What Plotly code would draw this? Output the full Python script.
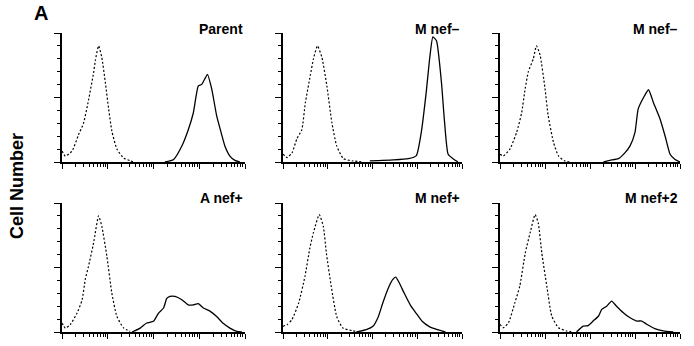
import numpy as np
import plotly.graph_objects as go

# ---- data (x in log10 fluorescence decades, y = relative cell number) ----
panel_titles = ["Parent", "M nef–", "M nef–", "A nef+", "M nef+", "M nef+2"]

ctrl_x_parent = [0, 0.073, 0.22, 0.36, 0.47, 0.58, 0.69, 0.73, 0.80, 0.87, 0.95, 1.02, 1.09, 1.2, 1.35, 1.49, 1.56]
ctrl_y_parent = [0.85, 0.46, 0.85, 2.1, 3.0, 4.8, 6.9, 7.9, 9.0, 8.1, 6.1, 4.1, 2.4, 1.0, 0.3, 0.1, 0]
samp_x_parent = [2.25, 2.44, 2.62, 2.76, 2.87, 2.98, 3.05, 3.13, 3.18, 3.27, 3.38, 3.45, 3.56, 3.67, 3.78, 3.89]
samp_y_parent = [0, 0.2, 1.24, 2.5, 3.8, 5.9, 6.0, 6.5, 6.8, 5.7, 3.6, 2.65, 1.24, 0.46, 0.13, 0]

ctrl_x_mneg1 = [0, 0.09, 0.2, 0.31, 0.42, 0.5, 0.61, 0.68, 0.77, 0.87, 0.98, 1.09, 1.2, 1.35, 1.57, 1.8]
ctrl_y_mneg1 = [0.6, 0.34, 0.7, 1.8, 2.5, 4.6, 6.7, 8.0, 9.0, 8.1, 5.9, 3.1, 1.25, 0.26, 0.08, 0]
samp_x_mneg1 = [1.94, 2.46, 2.8, 2.98, 3.09, 3.2, 3.28, 3.35, 3.43, 3.54, 3.61, 3.69, 3.8, 3.91]
samp_y_mneg1 = [0.08, 0.16, 0.26, 0.5, 2.3, 5.4, 8.1, 9.7, 9.4, 6.2, 3.1, 0.6, 0.26, 0]

ctrl_x_mneg2 = [0, 0.074, 0.22, 0.37, 0.48, 0.56, 0.63, 0.74, 0.81, 0.89, 1.0, 1.07, 1.19, 1.3, 1.44, 1.56]
ctrl_y_mneg2 = [0.6, 0.47, 1.0, 2.3, 3.8, 5.7, 7.0, 8.0, 9.0, 8.3, 5.7, 3.6, 1.5, 0.47, 0.08, 0]
samp_x_mneg2 = [2.3, 2.44, 2.63, 2.78, 2.89, 3.0, 3.07, 3.19, 3.3, 3.41, 3.56, 3.67, 3.78, 3.89, 4.0]
samp_y_mneg2 = [0, 0.13, 0.26, 0.73, 1.25, 2.3, 4.1, 5.0, 5.6, 4.6, 3.3, 2.0, 0.6, 0.2, 0]

ctrl_x_apos = [0, 0.073, 0.18, 0.33, 0.44, 0.51, 0.58, 0.69, 0.8, 0.87, 0.98, 1.09, 1.2, 1.35, 1.49]
ctrl_y_apos = [0.7, 0.3, 0.57, 1.47, 2.5, 4.1, 5.1, 6.9, 9.0, 8.2, 5.9, 3.0, 1.2, 0.3, 0.05]
samp_x_apos = [1.53, 1.71, 1.85, 2.0, 2.11, 2.22, 2.29, 2.36, 2.47, 2.62, 2.76, 2.87, 2.98, 3.09, 3.24, 3.38, 3.53, 3.67, 3.82, 3.93]
samp_y_apos = [0, 0.3, 0.7, 0.83, 1.47, 1.86, 2.6, 2.76, 2.76, 2.5, 2.1, 2.1, 2.2, 1.86, 1.6, 1.2, 0.65, 0.3, 0.05, 0]

ctrl_x_mpos = [0, 0.09, 0.2, 0.35, 0.49, 0.6, 0.68, 0.81, 0.9, 0.97, 1.08, 1.2, 1.34, 1.56, 1.71]
ctrl_y_mpos = [0.44, 0.57, 0.96, 2.25, 4.3, 6.5, 7.7, 9.1, 8.2, 6.1, 3.5, 1.2, 0.3, 0.1, 0]
samp_x_mpos = [1.64, 1.86, 2.01, 2.12, 2.23, 2.34, 2.45, 2.52, 2.6, 2.71, 2.86, 3.0, 3.11, 3.26, 3.45, 3.63]
samp_y_mpos = [0, 0.18, 0.44, 1.1, 2.25, 3.3, 4.06, 4.26, 3.8, 3.0, 2.0, 1.34, 0.83, 0.44, 0.18, 0]

ctrl_x_mpos2 = [0, 0.074, 0.19, 0.33, 0.44, 0.56, 0.67, 0.78, 0.85, 0.93, 1.04, 1.15, 1.3, 1.48, 1.63]
ctrl_y_mpos2 = [0.6, 0.33, 0.72, 2.27, 3.56, 6.1, 7.7, 9.1, 8.45, 6.1, 3.56, 1.24, 0.33, 0.08, 0]
samp_x_mpos2 = [1.7, 1.85, 1.96, 2.07, 2.19, 2.26, 2.37, 2.48, 2.59, 2.74, 2.89, 3.04, 3.15, 3.26, 3.44, 3.63, 3.85]
samp_y_mpos2 = [0, 0.46, 0.5, 0.85, 1.24, 1.75, 2.0, 2.4, 2.0, 1.5, 1.1, 0.85, 0.85, 0.6, 0.26, 0.08, 0]

panels = [
    (ctrl_x_parent, ctrl_y_parent, samp_x_parent, samp_y_parent),
    (ctrl_x_mneg1, ctrl_y_mneg1, samp_x_mneg1, samp_y_mneg1),
    (ctrl_x_mneg2, ctrl_y_mneg2, samp_x_mneg2, samp_y_mneg2),
    (ctrl_x_apos, ctrl_y_apos, samp_x_apos, samp_y_apos),
    (ctrl_x_mpos, ctrl_y_mpos, samp_x_mpos, samp_y_mpos),
    (ctrl_x_mpos2, ctrl_y_mpos2, samp_x_mpos2, samp_y_mpos2),
]

# ---- layout geometry ----
W, H = 694, 346
col_px = [(62, 245), (283, 462), (500, 680)]
row_px = [(33, 162), (203, 332)]
title_y_px = [29, 198]

major_x = [0, 1, 2, 3, 4]
minor_x = [d + np.log10(k) for d in range(4) for k in range(2, 10)]

fig = go.Figure()
layout = dict(
    width=W, height=H, margin=dict(l=0, r=0, t=0, b=0),
    paper_bgcolor="white", plot_bgcolor="white", showlegend=False,
    font=dict(family="Liberation Sans, Arial, sans-serif", color="black"),
)
annotations = []

for i, (cx, cy, sx, sy) in enumerate(panels):
    r, c = divmod(i, 3)
    n = i + 1
    xa = "x" if n == 1 else f"x{n}"
    ya = "y" if n == 1 else f"y{n}"
    x0, x1 = col_px[c]
    y0, y1 = row_px[r]
    xdom = [x0 / W, x1 / W]
    ydom = [1 - y1 / H, 1 - y0 / H]
    fig.add_trace(go.Scatter(x=cx, y=cy, mode="lines", xaxis=xa, yaxis=ya,
                             line=dict(color="black", width=1.2, dash="2px,2px", shape="spline", smoothing=0.5)))
    fig.add_trace(go.Scatter(x=sx, y=sy, mode="lines", xaxis=xa, yaxis=ya,
                             line=dict(color="black", width=1.3, shape="spline", smoothing=0.5)))
    key_x = "xaxis" if n == 1 else f"xaxis{n}"
    key_y = "yaxis" if n == 1 else f"yaxis{n}"
    layout[key_x] = dict(
        domain=xdom, anchor=ya, range=[0, 4], showgrid=False, zeroline=False,
        showline=True, linecolor="black", linewidth=1.6,
        tickmode="array", tickvals=major_x, ticks="outside", ticklen=5, tickwidth=1.2,
        tickcolor="black", showticklabels=False,
        minor=dict(tickmode="array", tickvals=minor_x, ticks="outside", ticklen=3,
                   tickwidth=1, tickcolor="black", showgrid=False),
    )
    layout[key_y] = dict(
        domain=ydom, anchor=xa, range=[0, 10], showgrid=False, zeroline=False,
        showline=True, linecolor="black", linewidth=1.6,
        tickmode="array", tickvals=[0, 5, 10], ticks="outside", ticklen=6, tickwidth=1.2,
        tickcolor="black", showticklabels=False,
        minor=dict(tickmode="array", tickvals=[1, 2, 3, 4, 6, 7, 8, 9], ticks="outside",
                   ticklen=3, tickwidth=1, tickcolor="black", showgrid=False),
    )
    annotations.append(dict(
        text=f"<b>{panel_titles[i]}</b>", xref="paper", yref="paper",
        x=x1 / W, y=1 - title_y_px[r] / H, xanchor="right", yanchor="middle",
        showarrow=False, font=dict(size=14, color="black"),
    ))

annotations.append(dict(text="<b>A</b>", xref="paper", yref="paper", x=41 / W, y=1.0,
                        xanchor="center", yanchor="top", showarrow=False,
                        font=dict(size=20, color="black")))
annotations.append(dict(text="<b>Cell Number</b>", xref="paper", yref="paper", x=17 / W, y=1 - 186 / H,
                        xanchor="center", yanchor="middle", textangle=-90, showarrow=False,
                        font=dict(size=18, color="black")))

layout["annotations"] = annotations
fig.update_layout(**layout)
fig.write_html("out.html")
